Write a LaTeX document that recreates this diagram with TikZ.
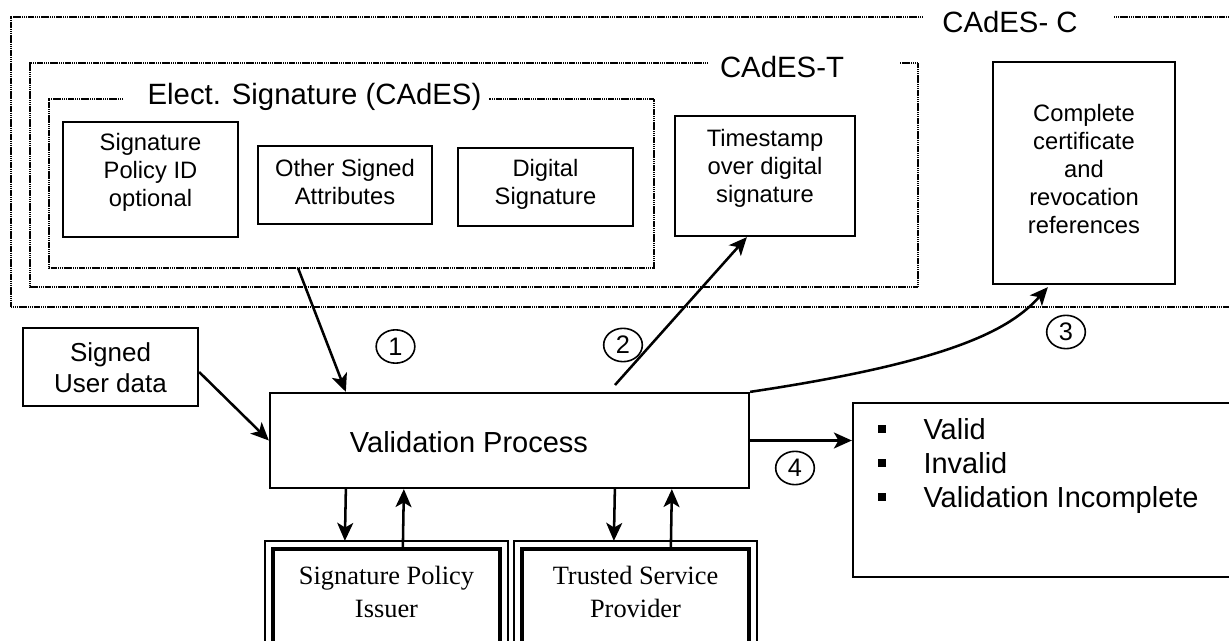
\documentclass[tikz,border=0pt]{standalone}
\usepackage{fontspec}
\setmainfont{Liberation Sans}
\newfontfamily\serifface{Liberation Serif}
\usetikzlibrary{arrows.meta,calc,shapes.geometric}

\tikzset{every picture/.style={line width=0.75pt}}
\tikzset{
  plainbox/.style 2 args={draw, line width=1.7pt, inner sep=0pt, minimum width=#1*0.75pt, minimum height=#2*0.75pt},
  issuerbox/.style 2 args={draw, line width=3.2pt, inner sep=0pt, minimum width=#1*0.75pt, minimum height=#2*0.75pt},
  frameline/.style={line width=1.7pt, dash pattern=on 1pt off 0.4pt},
  outerline/.style={line width=2pt, dash pattern=on 1pt off 0.4pt},
  flow/.style={line width=1.9pt, -{Stealth[length=13.5pt,width=12pt,inset=3.5pt]}},
  stepno/.style={draw, ellipse, line width=1.2pt, minimum width=29pt, minimum height=25pt, inner sep=0pt, font=\fontsize{19}{19}\selectfont},
  boxtext/.style={align=center, inner sep=0.75pt, font=\fontsize{17.8}{21}\selectfont},
  titletext/.style={inner sep=0.75pt, font=\fontsize{22}{26}\selectfont},
  listtext/.style={anchor=base west, inner sep=0pt, font=\fontsize{21.75}{26}\selectfont},
  issuertext/.style={align=center, inner sep=0.75pt, font=\serifface\fontsize{19.8}{24.75}\selectfont},
  listmark/.style={fill, inner sep=0pt, minimum size=5.5pt}
}

\begin{document}
\begin{tikzpicture}[x=0.75pt,y=0.75pt,yscale=-1,xscale=1]
\useasboundingbox (0,0) rectangle (1229,641);

%Frame: CAdES- C
\draw [outerline] (923,17) -- (11,17) -- (11,307) -- (1240,307) ;
\draw [outerline] (1114,17) -- (1240,17) ;
%Frame: CAdES-T
\draw [frameline] (708,63) -- (30,63) -- (30,287) -- (918,287) -- (918,63) -- (900,63) ;
%Frame: Elect. Signature
\draw [frameline] (123,99) -- (49,99) -- (49,268) -- (654,268) -- (654,99) -- (489,99) ;
\coordinate (esigfoot) at (298,268);

% Text Node
\node [titletext] (tc) at (1010,22) {CAdES- C};
% Text Node
\node [titletext] (tt) at (782,67) {CAdES-T};
% Text Node
\node [titletext] (te) at (314.5,97) {Elect. Signature (CAdES)};

%Shape: Rectangle
\node [plainbox={175}{115}] (spid) at (150.5,179.5) {};
\node [boxtext] (spidtext) at (150.5,172) {Signature\\Policy ID\\optional};
%Shape: Rectangle
\node [plainbox={174}{78}] (osa) at (345,185) {};
\node [boxtext] (osatext) at (345,182) {Other Signed\\Attributes};
%Shape: Rectangle
\node [plainbox={175}{78}] (dsig) at (545.5,187) {};
\node [boxtext] (dsigtext) at (545.5,184) {Digital\\Signature};
%Shape: Rectangle
\node [plainbox={180}{120}] (tstamp) at (765,176) {};
\node [boxtext] (tstamptext) at (765,168) {Timestamp\\over digital\\signature};
%Shape: Rectangle
\node [plainbox={182}{222}] (cref) at (1084,173) {};
\node [boxtext] (creftext) at (1084,169) {Complete\\certificate\\and\\revocation\\references};

%Shape: Rectangle
\node [plainbox={175}{78}] (sud) at (110.5,367) {};
\node [boxtext, font=\fontsize{19.5}{23}\selectfont] (sudtext) at (110.5,367.5) {Signed\\User data};
%Shape: Rectangle
\node [plainbox={479}{95}] (vproc) at (509.5,440.5) {};
\node [titletext, font=\fontsize{21.75}{26}\selectfont] (vproctext) at (469,442) {Validation Process};
%Shape: Rectangle
\node [plainbox={387}{174}] (result) at (1046.5,490) {};
\node [listmark] (m1) at (882,429) {};
\node [listtext] (r1) at (923,440) {Valid};
\node [listmark] (m2) at (882,463) {};
\node [listtext] (r2) at (923,474) {Invalid};
\node [listmark] (m3) at (882,497) {};
\node [listtext] (r3) at (923,508) {Validation Incomplete};

%Shape: Double Rectangle
\node [issuerbox={227}{102}] (spi) at (386.5,600) {};
\draw [line width=1.5pt] ($(spi.north west)+(-6,-6)$) rectangle ($(spi.south east)+(6,6)$) ;
\node [issuertext] (spitext) at (386.5,591.5) {Signature Policy\\Issuer};
%Shape: Double Rectangle
\node [issuerbox={227}{102}] (tsp) at (635.5,600) {};
\draw [line width=1.5pt] ($(tsp.north west)+(-6,-6)$) rectangle ($(tsp.south east)+(6,6)$) ;
\node [issuertext] (tsptext) at (635.5,591.5) {Trusted Service\\Provider};

% Step numbers
\node [stepno] (c1) at (395.5,346.5) {1};
\node [stepno] (c2) at (623,345) {2};
\node [stepno] (c3) at (1066,332) {3};
\node [stepno] (c4) at (795,468) {4};

%Connectors
\draw [flow] (esigfoot) -- ($(vproc.north west)+(77,0)$) ;
\coordinate (tsfoot) at (615,385);
\draw [flow] (tsfoot) -- ($(tstamp.south west)+(73,0)$) ;
\draw [flow] (vproc.north east) .. controls (950,362) and (1010,330) .. ($(cref.south west)+(56,2)$) ;
\draw [flow] (vproc.east) -- (vproc.east -| result.west) ;
\draw [flow] ($(sud.east)+(0,5)$) -- (vproc.west) ;
\draw [flow] ($(vproc.south west)+(77,0)$) -- ($(spi.north west)+(74,-6)$) ;
\draw [flow] ($(spi.north west)+(132,0)$) -- ($(vproc.south west)+(135,0)$) ;
\draw [flow] ($(vproc.south west)+(346,0)$) -- ($(tsp.north west)+(94,-6)$) ;
\draw [flow] ($(tsp.north west)+(151,0)$) -- ($(vproc.south west)+(403,0)$) ;

\end{tikzpicture}
\end{document}
